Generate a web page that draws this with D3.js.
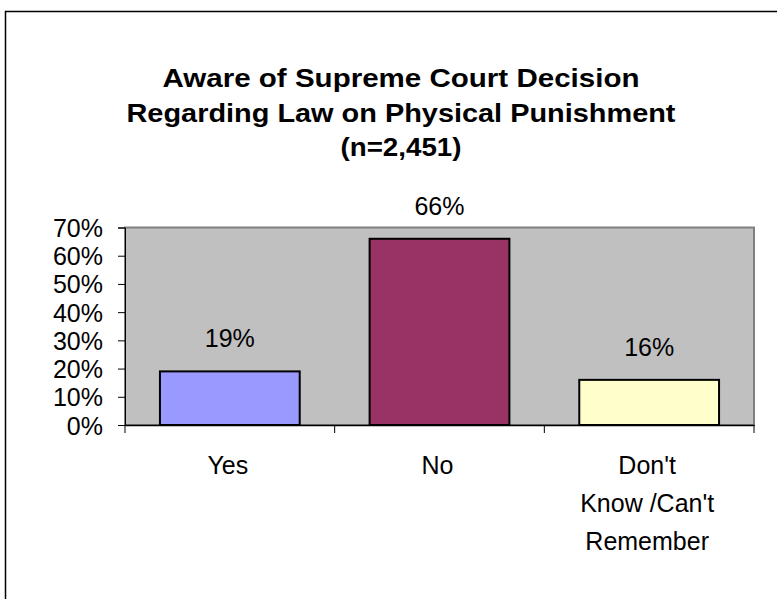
<!DOCTYPE html>
<html><head><meta charset="utf-8">
<script src="https://cdn.jsdelivr.net/npm/d3@7/dist/d3.min.js"></script>
<style>body{margin:0;background:#fff}svg{display:block}text{font-family:"Liberation Sans",Arial,sans-serif}</style>
</head><body>
<script>
const titleLines = ["Aware of Supreme Court Decision","Regarding Law on Physical Punishment","(n=2,451)"];
const categories = ["Yes","No","Don't Know /Can't Remember"];
const categoryLines = [["Yes"],["No"],["Don't","Know /Can't","Remember"]];
const values = [19,66,16];
const colors = ["#9999FF","#993366","#FFFFCC"];
const yTicks = [0,10,20,30,40,50,60,70];

const W=777,H=599;
const svg=d3.select("body").append("svg").attr("width",W).attr("height",H);
// outer frame (extends beyond viewport)
svg.append("rect").attr("x",5.5).attr("y",11.5).attr("width",800).attr("height",700)
  .attr("fill","#fff").attr("stroke","#000").attr("stroke-width",1.5);

const plot={l:125,r:754,t:227.5,b:425};
const x=d3.scaleBand().domain(categories).range([plot.l,plot.r]).paddingInner(1/3).paddingOuter(1/6);
const xb=d3.scaleBand().domain(categories).range([plot.l,plot.r]);
const y=d3.scaleLinear().domain([0,70]).range([plot.b,plot.t]);

// title
const titleW=[477,549,121];
const tY=[87,122,156];
titleLines.forEach((t,i)=>{
  svg.append("text").attr("x",401).attr("y",tY[i]).attr("text-anchor","middle")
    .attr("font-size",26).attr("font-weight","bold").attr("fill","#000")
    .attr("textLength",titleW[i]).attr("lengthAdjust","spacingAndGlyphs").text(t);
});

// plot bg
svg.append("rect").attr("x",plot.l).attr("y",plot.t).attr("width",plot.r-plot.l).attr("height",plot.b-plot.t)
  .attr("fill","#C0C0C0").attr("stroke","#808080").attr("stroke-width",2);

// bars
svg.selectAll("rect.bar").data(values).join("rect").attr("class","bar")
  .attr("x",(d,i)=>x(categories[i])).attr("width",x.bandwidth())
  .attr("y",d=>y(d)).attr("height",d=>y(0)-y(d))
  .attr("fill",(d,i)=>colors[i]).attr("stroke","#000").attr("stroke-width",2);

// value labels
svg.selectAll("text.val").data(values).join("text").attr("class","val")
  .attr("x",(d,i)=>x(categories[i])+x.bandwidth()/2).attr("y",d=>y(d)-24)
  .attr("text-anchor","middle").attr("font-size",25).attr("fill","#000").text(d=>d+"%");

// y axis
const yAxis=d3.axisLeft(y).tickValues(yTicks).tickFormat(d=>d+"%").tickSize(7).tickPadding(15);
const ya=svg.append("g").attr("transform",`translate(${plot.l},0)`).call(yAxis);
ya.select(".domain").attr("stroke","#000");
ya.selectAll(".tick line").attr("stroke","#000");
ya.selectAll("text").attr("font-size",25).attr("fill","#000").attr("font-family","Liberation Sans, Arial, sans-serif").attr("dy","0.36em");

// x axis
const xAxis=d3.axisBottom(xb).tickSize(0).tickFormat("");
const xa=svg.append("g").attr("transform",`translate(0,${plot.b})`).call(xAxis);
xa.select(".domain").attr("stroke","#000").attr("stroke-width",1.5);
const bounds=[plot.l,...categories.map(c=>xb(c)+xb.bandwidth())];
xa.selectAll("line.sep").data(bounds).join("line").attr("class","sep")
  .attr("x1",d=>d).attr("x2",d=>d).attr("y1",0).attr("y2",8).attr("stroke","#000");

// x labels
categoryLines.forEach((lines,i)=>{
  lines.forEach((ln,j)=>{
    svg.append("text").attr("x",xb(categories[i])+xb.bandwidth()/2-2).attr("y",474+j*38)
      .attr("text-anchor","middle").attr("font-size",25).attr("fill","#000").text(ln);
  });
});
</script>
</body></html>
